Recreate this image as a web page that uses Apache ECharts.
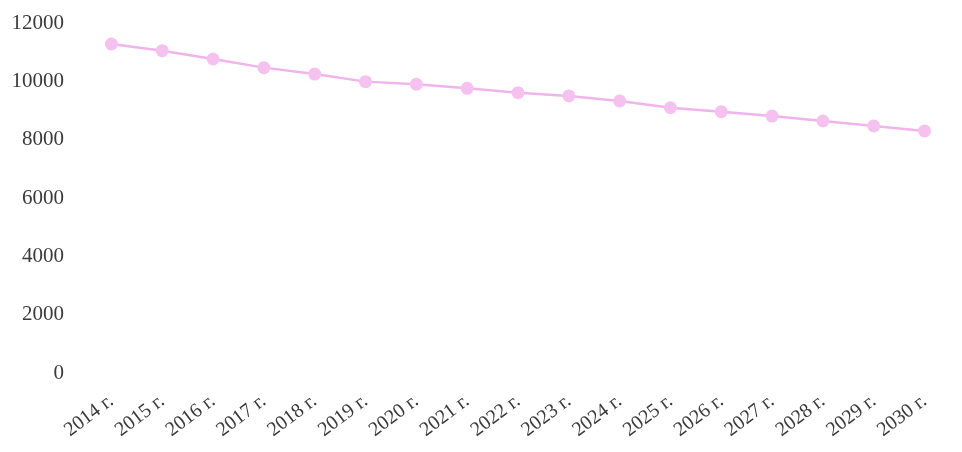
<!DOCTYPE html>
<html>
<head>
<meta charset="utf-8">
<script src="https://cdn.jsdelivr.net/npm/echarts@6/dist/echarts.min.js"></script>
<style>html,body{margin:0;padding:0;background:#fff;}#c{width:962px;height:452px;}</style>
</head>
<body>
<div id="c"></div>
<script>
var categories = ['2014 г.','2015 г.','2016 г.','2017 г.','2018 г.','2019 г.','2020 г.','2021 г.','2022 г.','2023 г.','2024 г.','2025 г.','2026 г.','2027 г.','2028 г.','2029 г.','2030 г.'];
var values = [11280, 11050, 10765, 10470, 10250, 9990, 9900, 9760, 9610, 9500, 9325, 9095, 8960, 8810, 8640, 8470, 8300];
var yTicks = [0, 2000, 4000, 6000, 8000, 10000, 12000];

var chart = echarts.init(document.getElementById('c'), null, {renderer: 'canvas'});
chart.setOption({
  backgroundColor: '#ffffff',
  animation: false,
  grid: {left: 86, right: 12, top: 23, bottom: 79, containLabel: false},
  xAxis: {
    type: 'category',
    data: categories,
    boundaryGap: true,
    axisLine: {show: false},
    axisTick: {show: false},
    axisLabel: {
      rotate: 37,
      margin: 26,
      interval: 0,
      color: '#3a3a3a',
      fontFamily: 'Liberation Serif',
      fontSize: 20
    }
  },
  yAxis: {
    type: 'value',
    min: yTicks[0],
    max: yTicks[yTicks.length - 1],
    interval: 2000,
    splitLine: {show: false},
    axisLine: {show: false},
    axisTick: {show: false},
    axisLabel: {
      margin: 22,
      color: '#3a3a3a',
      fontFamily: 'Liberation Serif',
      fontSize: 21,
      formatter: function (v) { return String(v); }
    }
  },
  series: [{
    type: 'line',
    data: values,
    symbol: 'circle',
    symbolSize: 13,
    lineStyle: {color: '#f0b4ea', width: 2.5},
    itemStyle: {color: '#f5c2ef'}
  }]
});
</script>
</body>
</html>
